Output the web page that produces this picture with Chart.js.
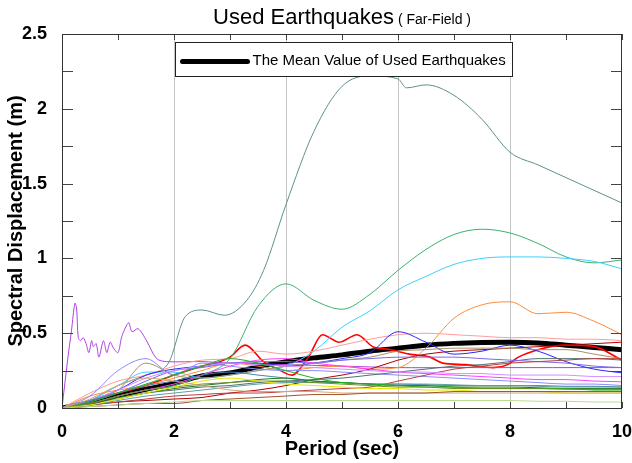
<!DOCTYPE html>
<html>
<head>
<meta charset="utf-8">
<title>Used Earthquakes (Far-Field)</title>
<script src="https://cdn.jsdelivr.net/npm/chart.js@4.4.1/dist/chart.umd.min.js"></script>
<style>
  html, body { margin: 0; padding: 0; background: #fff; }
  #wrap { width: 632px; height: 463px; }
</style>
</head>
<body>
<div id="wrap"><canvas id="spectraChart" width="632" height="463"></canvas></div>
<script>
// DATA: spectral displacement (m), per period (sec)

// shared period grid for most records
const periods = [0, 0.5, 1, 1.5, 2, 2.5, 3, 3.5, 4, 4.5, 5, 5.5, 6, 6.5, 7, 7.5, 8, 8.5, 9, 9.5, 10];

// mean of all records (thick black line)
const meanValue = [0, 0.035, 0.085, 0.125, 0.165, 0.215, 0.235, 0.275, 0.31, 0.335, 0.355, 0.38, 0.4, 0.42, 0.432, 0.438, 0.44, 0.435, 0.42, 0.405, 0.39];

// the biggest record has its own periods (sharp rise at 2 s, dip near 6.1 s)
const tealPeriods = [0, 0.5, 1, 1.5, 1.9, 2.2, 2.5, 2.9, 3.3, 3.6, 4, 4.5, 5, 5.5, 6, 6.15, 6.5, 7, 7.5, 8, 8.5, 9, 9.5, 10];
const tealValues  = [0, 0.05, 0.15, 0.22, 0.3, 0.61, 0.655, 0.62, 0.72, 0.92, 1.36, 1.85, 2.15, 2.22, 2.2, 2.14, 2.16, 2.09, 1.93, 1.71, 1.625, 1.54, 1.455, 1.37];

// other large records
const eqGreen  = [0, 0.03, 0.08, 0.12, 0.15, 0.22, 0.33, 0.68, 0.83, 0.72, 0.66, 0.76, 0.92, 1.06, 1.16, 1.195, 1.17, 1.1, 1.01, 0.97, 0.99];
const eqCyan   = [0, 0.05, 0.15, 0.24, 0.24, 0.2, 0.22, 0.25, 0.28, 0.38, 0.54, 0.65, 0.79, 0.88, 0.96, 1.0, 1.01, 1.01, 1.0, 0.98, 0.93];
const eqOrange = [0, 0.08, 0.12, 0.15, 0.2, 0.25, 0.3, 0.28, 0.25, 0.27, 0.28, 0.26, 0.27, 0.4, 0.6, 0.69, 0.71, 0.63, 0.64, 0.58, 0.49];

// smaller records
const eqSalmon    = [0, 0.1, 0.18, 0.22, 0.28, 0.32, 0.33, 0.38, 0.36, 0.38, 0.42, 0.46, 0.49, 0.5, 0.49, 0.48, 0.47, 0.47, 0.46, 0.46, 0.45];
const eqDarkRed   = [0, 0.02, 0.04, 0.05, 0.06, 0.07, 0.1, 0.12, 0.15, 0.19, 0.22, 0.26, 0.32, 0.36, 0.38, 0.39, 0.4, 0.41, 0.42, 0.43, 0.44];
const eqBlue      = [0, 0.05, 0.12, 0.22, 0.26, 0.28, 0.3, 0.3, 0.28, 0.3, 0.33, 0.37, 0.51, 0.44, 0.36, 0.38, 0.42, 0.38, 0.31, 0.26, 0.235];
const eqPeriwinkle= [0, 0.08, 0.25, 0.33, 0.22, 0.3, 0.28, 0.26, 0.25, 0.25, 0.24, 0.23, 0.22, 0.21, 0.2, 0.19, 0.18, 0.17, 0.16, 0.16, 0.15];
const eqTan       = [0, 0.05, 0.12, 0.3, 0.22, 0.2, 0.22, 0.25, 0.28, 0.3, 0.32, 0.34, 0.38, 0.39, 0.4, 0.4, 0.4, 0.39, 0.39, 0.36, 0.33];
const eqSlate     = [0, 0.03, 0.06, 0.1, 0.12, 0.14, 0.15, 0.17, 0.18, 0.19, 0.2, 0.22, 0.24, 0.26, 0.28, 0.29, 0.31, 0.33, 0.33, 0.33, 0.32];
const eqMedPurple = [0, 0.04, 0.1, 0.18, 0.25, 0.27, 0.3, 0.31, 0.31, 0.3, 0.32, 0.33, 0.34, 0.34, 0.34, 0.33, 0.32, 0.31, 0.3, 0.28, 0.27];
const eqMagenta   = [0, 0.03, 0.08, 0.12, 0.16, 0.22, 0.28, 0.32, 0.33, 0.3, 0.28, 0.26, 0.24, 0.23, 0.22, 0.21, 0.2, 0.19, 0.19, 0.18, 0.175];
const eqCadet     = [0, 0.02, 0.05, 0.08, 0.1, 0.12, 0.14, 0.16, 0.17, 0.17, 0.17, 0.16, 0.16, 0.16, 0.155, 0.15, 0.15, 0.145, 0.14, 0.14, 0.14];
const eqForest    = [0, 0.03, 0.07, 0.1, 0.13, 0.15, 0.17, 0.19, 0.2, 0.18, 0.17, 0.16, 0.15, 0.15, 0.14, 0.14, 0.14, 0.135, 0.13, 0.13, 0.13];
const eqLime      = [0, 0.04, 0.1, 0.16, 0.22, 0.28, 0.33, 0.3, 0.25, 0.2, 0.17, 0.16, 0.15, 0.14, 0.14, 0.13, 0.13, 0.13, 0.13, 0.12, 0.12];
const eqYellow    = [0, 0.02, 0.06, 0.1, 0.14, 0.18, 0.2, 0.18, 0.16, 0.15, 0.14, 0.13, 0.13, 0.12, 0.12, 0.11, 0.11, 0.11, 0.1, 0.1, 0.1];
const eqPaleGreen = [0, 0.01, 0.02, 0.03, 0.04, 0.05, 0.05, 0.05, 0.05, 0.05, 0.05, 0.05, 0.05, 0.05, 0.05, 0.05, 0.05, 0.045, 0.045, 0.04, 0.04];
const eqSienna    = [0, 0.01, 0.02, 0.03, 0.03, 0.05, 0.06, 0.07, 0.08, 0.09, 0.09, 0.1, 0.1, 0.1, 0.11, 0.11, 0.11, 0.11, 0.11, 0.11, 0.11];
const eqOlive     = [0, 0.03, 0.08, 0.12, 0.14, 0.16, 0.17, 0.18, 0.18, 0.17, 0.16, 0.15, 0.14, 0.14, 0.13, 0.13, 0.13, 0.13, 0.125, 0.125, 0.125];
const eqSteel     = [0, 0.05, 0.1, 0.15, 0.18, 0.22, 0.24, 0.22, 0.2, 0.18, 0.17, 0.16, 0.16, 0.155, 0.15, 0.15, 0.15, 0.15, 0.145, 0.145, 0.14];
const eqPlum      = [0, 0.05, 0.12, 0.2, 0.25, 0.28, 0.3, 0.29, 0.28, 0.27, 0.26, 0.25, 0.24, 0.24, 0.23, 0.23, 0.22, 0.22, 0.22, 0.21, 0.21];
const eqKhaki     = [0, 0.06, 0.15, 0.2, 0.18, 0.15, 0.12, 0.11, 0.11, 0.11, 0.1, 0.1, 0.1, 0.1, 0.1, 0.1, 0.1, 0.1, 0.1, 0.1, 0.1];
const eqBrick     = [0, 0.02, 0.04, 0.06, 0.08, 0.09, 0.1, 0.1, 0.11, 0.12, 0.13, 0.14, 0.18, 0.22, 0.26, 0.28, 0.3, 0.31, 0.32, 0.33, 0.33];

// the noisy purple record has its own, finer periods near zero
const purplePeriods = [0, 0.1, 0.17, 0.23, 0.26, 0.29, 0.33, 0.38, 0.43, 0.48, 0.53, 0.56, 0.61, 0.66, 0.74, 0.8, 0.86, 0.92, 1.0, 1.07, 1.19, 1.25, 1.36, 1.51, 1.69, 1.87, 2.5, 3, 4, 5, 6, 7, 8, 9, 10];
const purpleValues  = [0, 0.32, 0.52, 0.70, 0.67, 0.47, 0.45, 0.47, 0.43, 0.37, 0.45, 0.41, 0.43, 0.34, 0.45, 0.37, 0.44, 0.40, 0.37, 0.48, 0.57, 0.51, 0.53, 0.45, 0.33, 0.31, 0.31, 0.30, 0.29, 0.28, 0.27, 0.27, 0.27, 0.27, 0.27];

// the wavy red record
const redPeriods = [0, 0.5, 1, 1.5, 2, 2.5, 2.75, 3, 3.27, 3.6, 3.9, 4.1, 4.4, 4.65, 4.95, 5.27, 5.55, 5.86, 6.2, 6.57, 6.8, 7.2, 7.7, 7.96, 8.15, 8.5, 9, 9.5, 10];
const redValues  = [0, 0.05, 0.1, 0.15, 0.22, 0.28, 0.30, 0.34, 0.42, 0.31, 0.25, 0.22, 0.34, 0.49, 0.44, 0.49, 0.41, 0.39, 0.36, 0.34, 0.30, 0.29, 0.27, 0.29, 0.34, 0.39, 0.42, 0.41, 0.32];

// axis ticks
const xTicks = [0, 2, 4, 6, 8, 10];
const yTicks = [0, 0.5, 1, 1.5, 2, 2.5];

// BUILD DATASETS
function toPoints(xs, ys) {
  return xs.map((x, i) => ({ x: x, y: ys[i] }));
}

function thinLine(values, color, xs) {
  return {
    data: toPoints(xs || periods, values),
    borderColor: color,
    borderWidth: 1,
    pointRadius: 0,
    cubicInterpolationMode: 'monotone',
    fill: false
  };
}

const datasets = [
  thinLine(eqPaleGreen, '#b8dc90'),
  thinLine(eqSienna, '#a0522d'),
  thinLine(eqKhaki, '#d2a679'),
  thinLine(eqYellow, '#e6e600'),
  thinLine(eqOlive, '#6b8e23'),
  thinLine(eqLime, '#20b020'),
  thinLine(eqForest, '#1e7b1e'),
  thinLine(eqCadet, '#5f9ea0'),
  thinLine(eqSteel, '#4682b4'),
  thinLine(eqPlum, '#d090ff'),
  thinLine(eqMagenta, '#ff40ff'),
  thinLine(eqBrick, '#b84040'),
  thinLine(eqMedPurple, '#7b68ee'),
  thinLine(eqSlate, '#4f7070'),
  thinLine(eqTan, '#a8906a'),
  thinLine(eqPeriwinkle, '#8c8cff'),
  thinLine(eqBlue, '#2828ff'),
  thinLine(eqDarkRed, '#b00000'),
  thinLine(eqSalmon, '#ff9c9c'),
  thinLine(eqOrange, '#ff8c3c'),
  thinLine(eqCyan, '#40d0ff'),
  thinLine(eqGreen, '#3cb371'),
  thinLine(tealValues, '#5f8f8f', tealPeriods),
  Object.assign(thinLine(purpleValues, '#b040e0', purplePeriods), { cubicInterpolationMode: 'default', tension: 0.3 }),
  Object.assign(thinLine(redValues, '#ff0000', redPeriods), { borderWidth: 1.6 }),
  Object.assign(thinLine(meanValue, '#000000'), { borderWidth: 5, label: 'The Mean Value of Used Earthquakes' })
];

// PLUGIN: title, plot frame, inner tick marks and the boxed legend
const decorations = {
  id: 'decorations',
  afterDatasetsDraw(chart) {
    const { ctx, chartArea: a, scales } = chart;
    const x = scales.x, y = scales.y;
    ctx.save();

    // inner tick marks on all four sides
    ctx.strokeStyle = '#444';
    ctx.lineWidth = 1;
    ctx.beginPath();
    for (let v = 0; v <= 10; v++) {
      const px = Math.round(x.getPixelForValue(v)) + 0.5;
      ctx.moveTo(px, a.bottom); ctx.lineTo(px, a.bottom - 6);
      ctx.moveTo(px, a.top); ctx.lineTo(px, a.top + 6);
    }
    for (let v = 0; v <= 2.5; v += 0.25) {
      const py = Math.round(y.getPixelForValue(v)) + 0.5;
      ctx.moveTo(a.left, py); ctx.lineTo(a.left + 11, py);
      ctx.moveTo(a.right, py); ctx.lineTo(a.right - 11, py);
    }
    ctx.stroke();

    // frame
    ctx.strokeStyle = '#333';
    ctx.strokeRect(Math.round(a.left) + 0.5, Math.round(a.top) + 0.5, Math.round(a.width) - 1, Math.round(a.height));

    // legend box
    const bx = Math.round(a.left) + 113.5, by = Math.round(a.top) + 8.5, bw = 337, bh = 34;
    ctx.fillStyle = '#fff';
    ctx.fillRect(bx, by, bw, bh);
    ctx.strokeStyle = '#222';
    ctx.strokeRect(bx, by, bw, bh);
    ctx.strokeStyle = '#000';
    ctx.lineWidth = 5;
    ctx.lineCap = 'round';
    ctx.beginPath();
    ctx.moveTo(bx + 7, by + 19);
    ctx.lineTo(bx + 72, by + 19);
    ctx.stroke();
    ctx.fillStyle = '#000';
    ctx.font = '15px "Liberation Sans", Arial, sans-serif';
    ctx.textBaseline = 'middle';
    ctx.textAlign = 'left';
    ctx.fillText(chart.data.datasets[chart.data.datasets.length - 1].label, bx + 77, by + 18);

    ctx.restore();
  },
  afterDraw(chart) {
    const { ctx, chartArea: a } = chart;
    ctx.save();
    const big = 'Used Earthquakes';
    const small = ' ( Far-Field )';
    ctx.fillStyle = '#000';
    ctx.textBaseline = 'alphabetic';
    ctx.font = '22px "Liberation Sans", Arial, sans-serif';
    const w1 = ctx.measureText(big).width;
    ctx.font = '14px "Liberation Sans", Arial, sans-serif';
    const w2 = ctx.measureText(small).width;
    const start = (a.left + a.right) / 2 - (w1 + w2) / 2;
    ctx.font = '22px "Liberation Sans", Arial, sans-serif';
    ctx.fillText(big, start, 24);
    ctx.font = '14px "Liberation Sans", Arial, sans-serif';
    ctx.fillText(small, start + w1, 24);
    ctx.restore();
  }
};

// CHART
const ctx = document.getElementById('spectraChart').getContext('2d');
new Chart(ctx, {
  type: 'line',
  data: { datasets: datasets },
  options: {
    responsive: false,
    animation: false,
    layout: { padding: { top: 34, right: 10, left: 0, bottom: 0 } },
    plugins: {
      legend: { display: false },
      tooltip: { enabled: false },
      title: { display: false }
    },
    scales: {
      x: {
        type: 'linear',
        min: 0,
        max: 10,
        // keep the plot box fixed: no extra room for the overhanging "10"
        afterFit: s => { s.height = 55; s.paddingLeft = 0; s.paddingRight = 0; },
        afterBuildTicks: s => { s.ticks = Array.from({ length: 11 }, (_, i) => ({ value: i })); },
        ticks: {
          padding: 13,
          color: '#000',
          maxRotation: 0,
          font: { family: '"Liberation Sans", Arial, sans-serif', size: 18, weight: 'bold' },
          callback: v => (xTicks.includes(v) ? String(v) : '')
        },
        grid: {
          drawTicks: false,
          color: c => ([2, 4, 6, 8].includes(c.tick && c.tick.value) ? '#c4c4c4' : 'rgba(0,0,0,0)')
        },
        border: { display: false },
        title: {
          display: true,
          text: 'Period (sec)',
          color: '#000',
          padding: { top: 0, bottom: 2 },
          font: { family: '"Liberation Sans", Arial, sans-serif', size: 20, weight: 'bold' }
        }
      },
      y: {
        type: 'linear',
        min: 0,
        max: 2.5,
        afterFit: s => { s.width = 62; s.paddingTop = 0; s.paddingBottom = 0; },
        afterBuildTicks: s => { s.ticks = Array.from({ length: 11 }, (_, i) => ({ value: i * 0.25 })); },
        ticks: {
          padding: 7,
          color: '#000',
          font: { family: '"Liberation Sans", Arial, sans-serif', size: 18, weight: 'bold' },
          callback: v => (yTicks.includes(v) ? String(v) : '')
        },
        grid: { display: false },
        border: { display: false },
        title: {
          display: true,
          text: 'Spectral Displacement (m)',
          color: '#000',
          padding: { top: 4, bottom: 0 },
          font: { family: '"Liberation Sans", Arial, sans-serif', size: 20, weight: 'bold' }
        }
      }
    }
  },
  plugins: [decorations]
});
</script>
</body>
</html>
